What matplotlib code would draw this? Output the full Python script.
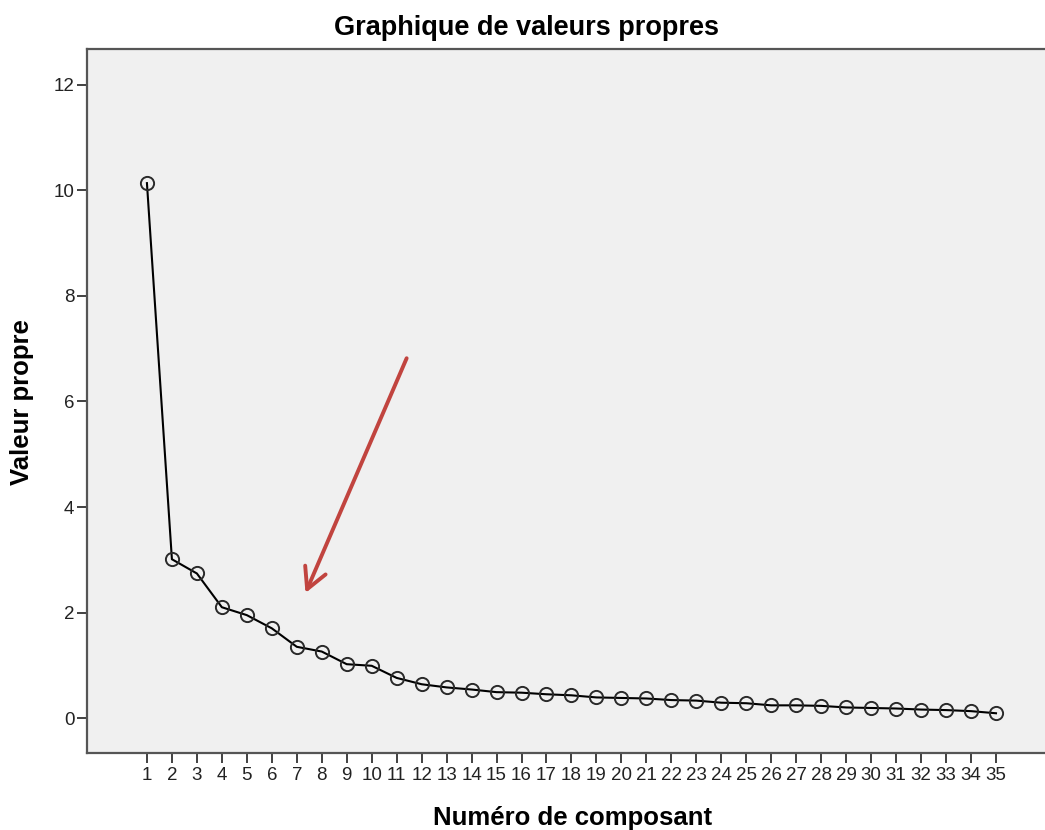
import matplotlib.pyplot as plt

plt.rcParams["font.family"] = ["Liberation Sans", "DejaVu Sans"]

# Eigenvalues
composants = list(range(1, 36))
valeurs_propres = [10.14, 3.01, 2.74, 2.10, 1.95, 1.70, 1.35, 1.26, 1.02, 0.99,
                   0.76, 0.64, 0.58, 0.54, 0.49, 0.48, 0.45, 0.43, 0.39, 0.38,
                   0.37, 0.34, 0.33, 0.29, 0.28, 0.24, 0.24, 0.23, 0.20, 0.19,
                   0.18, 0.16, 0.15, 0.13, 0.09]
y_ticks = [0, 2, 4, 6, 8, 10, 12]

# red arrow pointing at the elbow (data coords)
fleche_debut = (11.4, 6.82)
fleche_fin = (7.35, 2.37)

fig = plt.figure(figsize=(10.45, 8.3), dpi=100)
ax = fig.add_axes([87 / 1045, 77 / 830, (1070 - 87) / 1045, 704 / 830])
ax.set_facecolor("#f0f0f0")

ax.plot(composants, valeurs_propres, color="black", linewidth=1.5,
        marker="o", markersize=9.5, markerfacecolor="none",
        markeredgecolor="#2a2a2a", markeredgewidth=1.4)

ax.annotate("", xy=fleche_fin, xytext=fleche_debut,
            arrowprops=dict(arrowstyle="->,head_length=0.75,head_width=0.4",
                            color="#c1443f", lw=2.8, mutation_scale=20,
                            shrinkA=0, shrinkB=0))

ax.set_xlim(-1.4, 35 + (1070 - 996) / 24.97)
ax.set_ylim(-(753 - 718) / 52.75, 12 + (85 - 49) / 52.75)
ax.set_xticks(composants)
ax.set_xticklabels([str(c) for c in composants], fontsize=13.5, color="#222222")
ax.set_yticks(y_ticks)
ax.set_yticklabels([str(t) for t in y_ticks], fontsize=13.5, color="#222222")
ax.tick_params(axis="both", direction="out", length=7, width=1.3, color="#333333")
ax.tick_params(axis="x", pad=3)
ax.tick_params(axis="y", pad=2)

for side in ["left", "bottom", "top"]:
    ax.spines[side].set_color("#555555")
    ax.spines[side].set_linewidth(1.6)
ax.spines["right"].set_visible(False)

fig.text(526 / 1045, 1 - 28 / 830, "Graphique de valeurs propres",
         ha="center", va="center", fontsize=19.5, fontweight="bold")
fig.text(22 / 1045, 1 - 402 / 830, "Valeur propre", rotation=90,
         ha="center", va="center", fontsize=18.5, fontweight="bold")
fig.text(573 / 1045, 1 - 818 / 830, "Numéro de composant",
         ha="center", va="center", fontsize=18.5, fontweight="bold")

fig.savefig("out.png", dpi=100)
